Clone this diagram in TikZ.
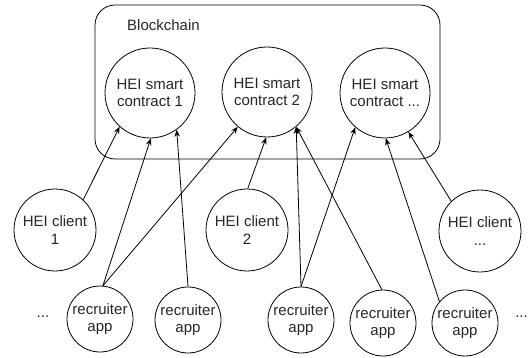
\documentclass[tikz,border=0pt]{standalone}
\usepackage{fontspec}
\setmainfont{Liberation Sans}
\usetikzlibrary{arrows.meta}
\begin{document}
\begin{tikzpicture}[x=1pt,y=-1pt,
  every node/.style={font=\fontsize{15}{17.5}\selectfont, align=center, inner sep=0pt, text=black!85},
  contract/.style={circle, draw, line width=0.8pt, minimum size=90pt},
  client/.style={circle, draw, line width=0.8pt, minimum size=82pt},
  recruiter/.style={circle, draw, line width=0.8pt, minimum size=66pt},
  link/.style={line width=0.8pt, -{Stealth[length=7pt,width=5.5pt]}},
  blockbox/.style={draw, line width=0.8pt, rounded corners=20pt}
]
\useasboundingbox (0,0) rectangle (530,358);
\draw[blockbox] (95,5) rectangle (440,159);
\node[anchor=west] (bc) at (127,25) {Blockchain};

\node[contract] (c1) at (150,93) {HEI smart\\contract 1};
\node[contract] (c2) at (267,92) {HEI smart\\contract 2};
\node[contract] (c3) at (385,93) {HEI smart\\contract ...};

\node[client] (h1) at (55,230) {HEI client\\1};
\node[client] (h2) at (247,230) {HEI client\\2};
\node[client] (h3) at (480,231) {HEI client\\...};

\node[recruiter] (r1) at (100,319) {recruiter\\app};
\node[recruiter] (r2) at (188,320) {recruiter\\app};
\node[recruiter] (r3) at (301,320) {recruiter\\app};
\node[recruiter] (r4) at (383,323) {recruiter\\app};
\node[recruiter] (r5) at (465,323) {recruiter\\app};

\node (d1) at (43,317) {...};
\node[anchor=east] (d2) at (528,317) {...};

\draw[link] (h1.47) -- (c1.228);
\draw[link] (r1.85) -- (c1.271);
\draw[link] (r1.85) -- (c2.230);
\draw[link] (r2.90) -- (c1.306);
\draw[link] (h2.89) -- (c2.269);
\draw[link] (r3.90) -- (c2.310);
\draw[link] (r4.92) -- (c2.310);
\draw[link] (r3.90) -- (c3.229);
\draw[link] (r5.140) -- (c3.271);
\draw[link] (h3.134) -- (c3.301);
\end{tikzpicture}
\end{document}
